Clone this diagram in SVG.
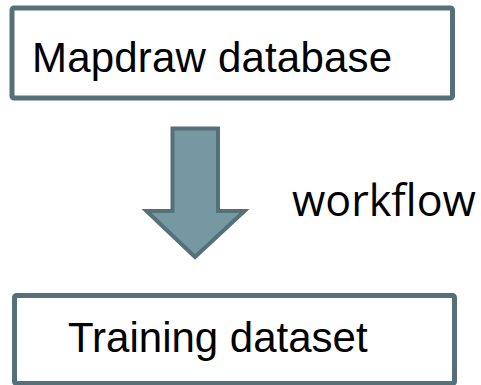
<svg xmlns="http://www.w3.org/2000/svg" width="481" height="385" viewBox="0 0 481 385">
<style>
.box{fill:#ffffff;stroke:#56707a;stroke-width:5}
.lbl{font-family:"Liberation Sans",Arial,sans-serif;font-size:42px;fill:#000000}
.arrow{fill:#7598a2;stroke:#56707a;stroke-width:4;stroke-linejoin:miter}
.wf{font-family:"Open Sans",sans-serif;font-size:43px;fill:#000000}
</style>
<rect width="481" height="385" fill="#ffffff"/>
<g id="node-mapdraw">
<rect class="box" x="12" y="8" width="440.5" height="90" rx="2"/>
<text class="lbl" x="32" y="72" textLength="360" lengthAdjust="spacing">Mapdraw database</text>
</g>
<g id="connectors">
<polygon class="arrow" points="172.5,128.5 218,128.5 218,211 244.5,211 195,257 146.5,211 172.5,211"/>
<text class="wf" x="292" y="216">workflow</text>
</g>
<g id="node-training">
<rect class="box" x="14.5" y="295.5" width="440" height="88" rx="2"/>
<text class="lbl" x="68" y="352">Training dataset</text>
</g>
</svg>
